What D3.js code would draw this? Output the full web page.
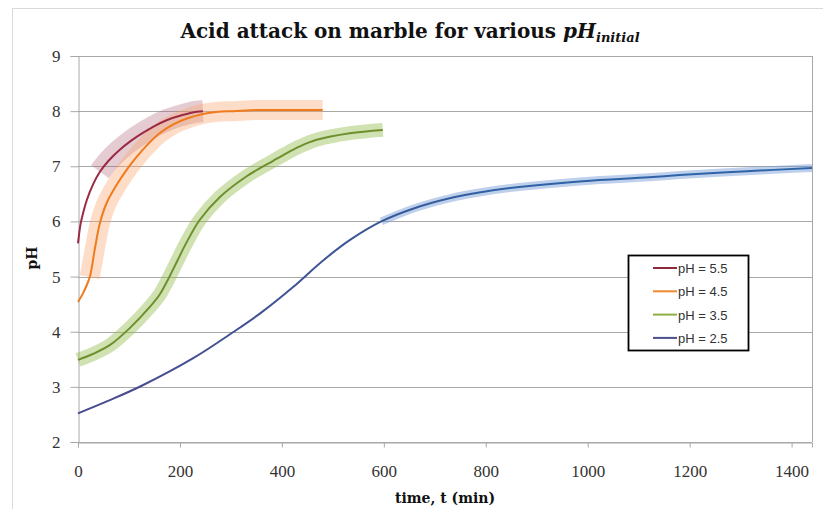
<!DOCTYPE html>
<html><head><meta charset="utf-8">
<script src="https://cdn.jsdelivr.net/npm/d3@7"></script>
<style>
html,body{margin:0;padding:0;background:#fff;}
svg{display:block;}
</style></head>
<body>
<svg id="chart" width="823" height="509"></svg>
<script>
// ---- data ----
const xTicks = [0, 200, 400, 600, 800, 1000, 1200, 1400];
const yTicks = [2, 3, 4, 5, 6, 7, 8, 9];
const seriesNames = ["pH = 5.5", "pH = 4.5", "pH = 3.5", "pH = 2.5"];

const red_t  = [0, 5, 10, 17, 30, 43, 60, 82, 105, 128, 150, 175, 205, 233, 245];
const red_pH = [5.6, 5.95, 6.15, 6.38, 6.68, 6.9, 7.1, 7.3, 7.47, 7.61, 7.73, 7.84, 7.93, 7.99, 8.0];

const orange_t  = [0, 10, 23, 33, 43, 56, 75, 95, 115, 135, 160, 187, 215, 245, 275, 304, 350, 400, 480];
const orange_pH = [4.54, 4.7, 4.99, 5.5, 5.97, 6.33, 6.65, 6.93, 7.17, 7.38, 7.6, 7.76, 7.87, 7.95, 7.99, 8.0, 8.02, 8.02, 8.02];

const green_t  = [0, 30, 63, 102, 141, 160, 174, 194, 213, 239, 278, 331, 383, 402, 435, 468, 533, 598];
const green_pH = [3.49, 3.6, 3.76, 4.07, 4.45, 4.67, 4.9, 5.27, 5.62, 6.03, 6.44, 6.82, 7.1, 7.2, 7.36, 7.48, 7.6, 7.66];

const blue_t  = [0, 60, 125, 226, 304, 360, 422, 478, 533, 595, 660, 729, 790, 861, 990, 1120, 1180, 1312, 1440];
const blue_pH = [2.52, 2.75, 3.02, 3.52, 3.99, 4.35, 4.81, 5.27, 5.66, 6.0, 6.24, 6.42, 6.53, 6.62, 6.73, 6.8, 6.84, 6.91, 6.97];

// band (uncertainty) start times
const bandStart = [43, 23, 0, 580];

// ---- layout ----
const svg = d3.select("#chart");
const L = 78, R = 812, T = 56, B = 442;
const x = d3.scaleLinear().domain([0, 1440]).range([L, R]);
const y = d3.scaleLinear().domain([2, 9]).range([B, T]);

const zip = (ts, vs) => ts.map((t, i) => ({t, v: vs[i]}));
const series = [
  {name: seriesNames[0], pts: zip(red_t, red_pH), line: "#9a2a45", band: "rgba(175,95,115,0.32)", bw: 22},
  {name: seriesNames[1], pts: zip(orange_t, orange_pH), line: "#ef7b1c", band: "rgba(250,165,110,0.38)", bw: 20},
  {name: seriesNames[2], pts: zip(green_t, green_pH), line: "#6f8f2e", band: "rgba(150,190,85,0.45)", bw: 14},
  {name: seriesNames[3], pts: zip(blue_t, blue_pH), line: "url(#blueGrad)", band: "rgba(110,150,210,0.45)", bw: 8}
];

const SERIF = "'DejaVu Serif', 'Liberation Serif', serif";

// outer chart frame
svg.append("rect").attr("x", 12.5).attr("y", 8.5).attr("width", 830).attr("height", 520)
  .attr("fill", "none").attr("stroke", "#d9d9d9");

const defs = svg.append("defs");
const g1 = defs.append("linearGradient").attr("id", "blueGrad")
  .attr("gradientUnits", "userSpaceOnUse").attr("x1", x(0)).attr("x2", x(1440)).attr("y1", 0).attr("y2", 0);
g1.append("stop").attr("offset", "0%").attr("stop-color", "#4a4a8e");
g1.append("stop").attr("offset", "35%").attr("stop-color", "#3d5596");
g1.append("stop").attr("offset", "60%").attr("stop-color", "#2f62a6");
g1.append("stop").attr("offset", "100%").attr("stop-color", "#2f64a8");

// grid
svg.append("g").selectAll("line").data(yTicks).join("line")
  .attr("x1", L).attr("x2", R).attr("y1", d => Math.round(y(d)) + 0.5).attr("y2", d => Math.round(y(d)) + 0.5)
  .attr("stroke", "#a8a8a8").attr("stroke-width", 1);
// right border
svg.append("line").attr("x1", R + 0.5).attr("x2", R + 0.5).attr("y1", T).attr("y2", B)
  .attr("stroke", "#a8a8a8");

// axes
const yAxis = d3.axisLeft(y).tickValues(yTicks).tickSize(8).tickPadding(10).tickFormat(d3.format("d"));
const yg = svg.append("g").attr("transform", `translate(${L + 0.5},0)`).call(yAxis);
const xAxis = d3.axisBottom(x).tickValues(xTicks).tickSize(5).tickPadding(17).tickFormat(d3.format("d"));
const xg = svg.append("g").attr("transform", `translate(0,${Math.round(B) + 0.5})`).call(xAxis);
[yg, xg].forEach(g => {
  g.select(".domain").attr("stroke", "#a8a8a8");
  g.selectAll(".tick line").attr("stroke", "#a8a8a8");
  g.selectAll(".tick text").attr("fill", "#333").style("font-family", "'Liberation Serif', 'DejaVu Serif', serif").style("font-size", "17px");
});

const lineGen = d3.line().x(d => x(d.t)).y(d => y(d.v)).curve(d3.curveCatmullRom.alpha(0.5));

// bands
series.forEach((s, i) => {
  svg.append("path").datum(s.pts.filter(p => p.t >= bandStart[i]))
    .attr("d", lineGen).attr("fill", "none").attr("stroke", s.band)
    .attr("stroke-width", s.bw).attr("stroke-linecap", "butt").attr("stroke-linejoin", "round");
});
// lines
series.forEach(s => {
  svg.append("path").datum(s.pts).attr("d", lineGen).attr("fill", "none")
    .attr("stroke", s.line).attr("stroke-width", 2);
});

// title
const title = svg.append("text").attr("x", 410).attr("y", 38).attr("text-anchor", "middle")
  .style("font-family", SERIF).style("font-weight", "bold")
  .style("font-size", "20px").attr("fill", "#111");
title.append("tspan").text("Acid attack on marble for various ");
title.append("tspan").style("font-style", "italic").text("pH");
title.append("tspan").style("font-style", "italic").style("font-size", "13px").attr("dy", 4).text("initial");

// axis titles
svg.append("text").attr("x", 445).attr("y", 503).attr("text-anchor", "middle")
  .style("font-family", SERIF).style("font-weight", "bold")
  .style("font-size", "14px").attr("fill", "#111").text("time, t (min)");
svg.append("text").attr("transform", "translate(37,258) rotate(-90)").attr("text-anchor", "middle")
  .style("font-family", SERIF).style("font-weight", "bold")
  .style("font-size", "14px").attr("fill", "#111").text("pH");

// legend
const legCols = ["#8e2a3c", "#f08a2e", "#8db040", "#4b4f8c"];
const lg = svg.append("g");
lg.append("rect").attr("x", 628.5).attr("y", 255.5).attr("width", 120).attr("height", 95)
  .attr("fill", "#fff").attr("stroke", "#000").attr("stroke-width", 1.8);
seriesNames.forEach((n, i) => {
  const yy = 268 + i * 23.3;
  lg.append("line").attr("x1", 653).attr("x2", 677).attr("y1", yy).attr("y2", yy)
    .attr("stroke", legCols[i]).attr("stroke-width", 2);
  lg.append("text").attr("x", 678).attr("y", yy + 5)
    .style("font-family", "'Liberation Sans', Arial, sans-serif").style("font-size", "13px")
    .attr("fill", "#333").text(n);
});
</script>
</body></html>
